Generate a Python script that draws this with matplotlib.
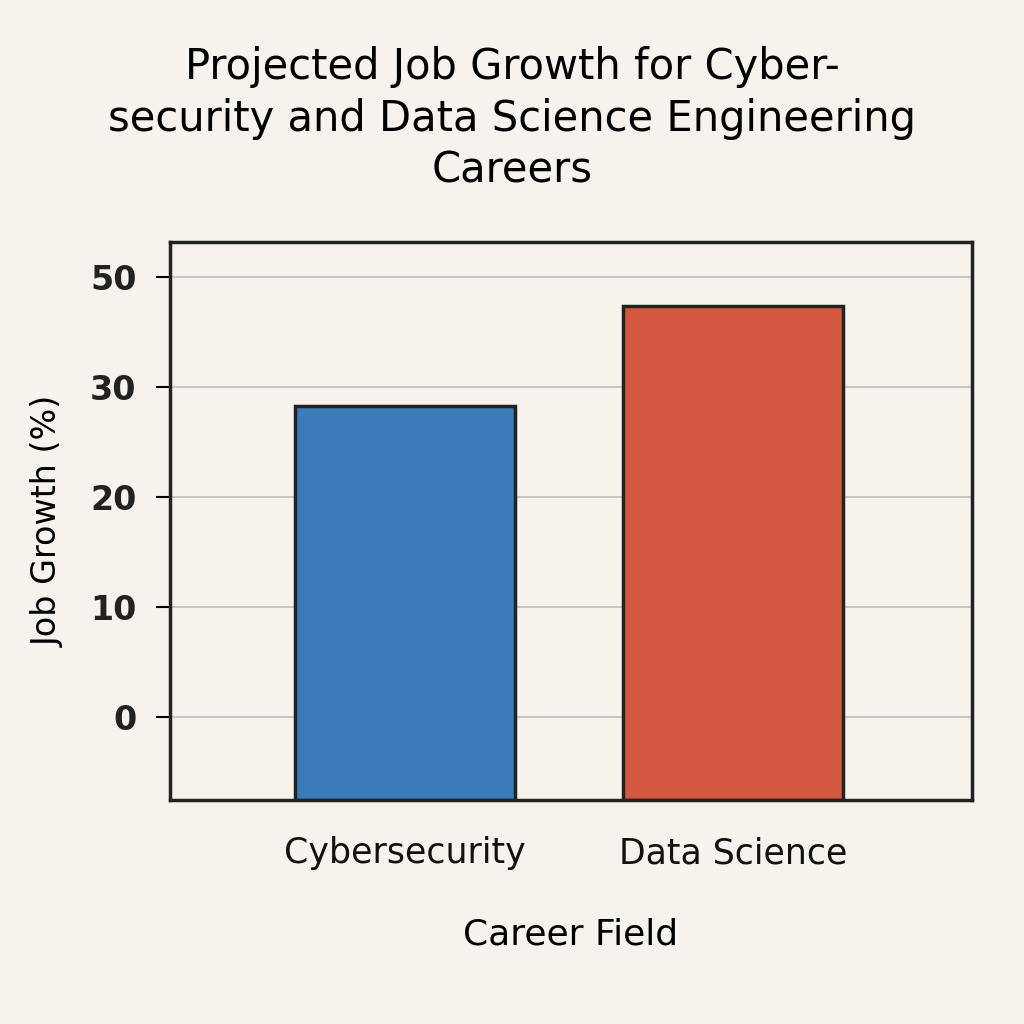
import matplotlib
matplotlib.use("Agg")
import matplotlib.pyplot as plt

categories = ["Cybersecurity", "Data Science"]
values = [28.3, 37.4]
tick_values = [0, 10, 20, 30, 40]
tick_labels = ["0", "10", "20", "30", "50"]
colors = ["#3b7bb9", "#d4583f"]

bg = "#f7f3ec"
fig = plt.figure(figsize=(10.24, 10.24), dpi=100, facecolor=bg)
ax = fig.add_axes([170/1024, 1-800/1024, (972-170)/1024, (800-242)/1024], facecolor=bg)
ymin, ymax = -7.5, 43.2
ax.set_ylim(ymin, ymax)
ax.set_xlim(-0.716, 1.729)
for y in tick_values:
    ax.axhline(y, color="#c8c6c2", lw=1.5, zorder=0)
x = range(len(categories))
ax.bar(x, [v - ymin for v in values], bottom=ymin, width=0.67, color=colors,
       edgecolor="#222222", linewidth=2.5, zorder=2)
ax.set_yticks(tick_values)
ax.set_yticklabels(tick_labels, fontsize=24, fontweight="semibold", color="#222222")
ax.set_xticks(list(x))
ax.set_xticklabels(categories, fontsize=25, color="#111111")
ax.tick_params(axis="y", length=10, width=1.5, pad=14)
ax.tick_params(axis="x", length=0, pad=26)
for s in ax.spines.values():
    s.set_linewidth(2.5)
    s.set_color("#222222")
ax.set_ylabel("Job Growth (%)", fontsize=24, labelpad=18)
ax.set_xlabel("Career Field", fontsize=26, labelpad=34)
fig.text(0.5, 0.955, "Projected Job Growth for Cyber-\nsecurity and Data Science Engineering\nCareers",
         ha="center", va="top", fontsize=30, fontweight="medium", linespacing=1.3)
fig.savefig("out.png", dpi=100, facecolor=bg)
